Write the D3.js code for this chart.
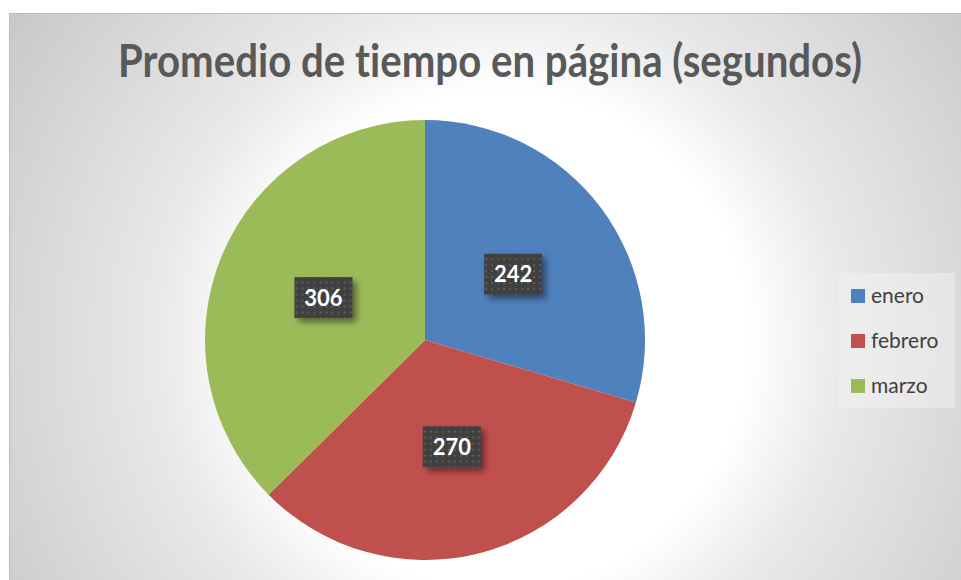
<!DOCTYPE html>
<html>
<head>
<meta charset="utf-8">
<script src="https://cdn.jsdelivr.net/npm/d3@7"></script>
<style>
  html, body { margin: 0; padding: 0; background: #ffffff; }
  svg { display: block; }
  text { font-variant-ligatures: none; font-feature-settings: "liga" 0; }
</style>
</head>
<body>
<svg id="chart" width="961" height="580"></svg>
<script>
// ---- data ----
const categories = ["enero", "febrero", "marzo"];
const values = [242, 270, 306];
const colors = ["#4f81bd", "#c0504d", "#9bbb59"];
const title = "Promedio de tiempo en página (segundos)";

const W = 961, H = 580;
const svg = d3.select("#chart");
const defs = svg.append("defs");

// background gradient
const rg = defs.append("radialGradient")
  .attr("id", "bg").attr("gradientUnits", "userSpaceOnUse")
  .attr("cx", 500).attr("cy", 340).attr("r", 590);
[[0, "#ffffff"], [0.42, "#ffffff"], [0.58, "#e9e9e9"], [1, "#c8c8c8"]]
  .forEach(([o, c]) => rg.append("stop").attr("offset", o).attr("stop-color", c));

// dotted pattern for labels
const pat = defs.append("pattern").attr("id", "dots")
  .attr("patternUnits", "userSpaceOnUse").attr("width", 6).attr("height", 6);
pat.append("rect").attr("width", 6).attr("height", 6).attr("fill", "#404040");
pat.append("rect").attr("x", 2).attr("y", 2).attr("width", 2).attr("height", 2).attr("fill", "#5c5c5c");

const sh = defs.append("filter").attr("id", "shadow")
  .attr("x", "-30%").attr("y", "-30%").attr("width", "170%").attr("height", "170%");
sh.append("feDropShadow").attr("dx", 4).attr("dy", 4).attr("stdDeviation", 3)
  .attr("flood-color", "#000").attr("flood-opacity", 0.45);

// chart area
svg.append("rect").attr("x", 9.5).attr("y", 13.5).attr("width", W + 20).attr("height", H + 20)
  .attr("fill", "url(#bg)").attr("stroke", "#bdbdbd").attr("stroke-width", 1);

// title
const t = svg.append("text")
  .attr("x", 490).attr("y", 77)
  .attr("text-anchor", "middle")
  .attr("font-family", "Lato, 'Open Sans', sans-serif")
  .attr("font-weight", 700)
  .attr("font-size", 45)
  .attr("fill", "#595959")
  .text(title);
const tl = t.node().getComputedTextLength();
if (Math.abs(tl - 744) > 4) t.attr("textLength", 744).attr("lengthAdjust", "spacingAndGlyphs");

// pie
const cx = 425, cy = 340, R = 220;
const pie = d3.pie().sort(null).value(d => d)(values);
const arc = d3.arc().innerRadius(0).outerRadius(R);
const g = svg.append("g").attr("transform", `translate(${cx},${cy})`);
g.selectAll("path.slice").data(pie).join("path")
  .attr("class", "slice")
  .attr("d", arc)
  .attr("fill", (d, i) => colors[i]);

// labels
const bw = 58, bh = 41;
const lab = g.selectAll("g.lab").data(pie).join("g")
  .attr("class", "lab")
  .attr("transform", d => { const c = arc.centroid(d); return `translate(${c[0]},${c[1]})`; });
lab.append("rect")
  .attr("x", -bw / 2).attr("y", -bh / 2).attr("width", bw).attr("height", bh)
  .attr("fill", "url(#dots)").attr("filter", "url(#shadow)");
lab.append("text")
  .attr("text-anchor", "middle").attr("dy", "0.36em")
  .attr("font-family", "Lato, 'Open Sans', sans-serif")
  .attr("font-weight", 700).attr("font-size", 22)
  .attr("fill", "#ffffff")
  .text(d => d.data);

// legend
svg.append("rect").attr("x", 839).attr("y", 273).attr("width", 116).attr("height", 135)
  .attr("fill", "#f4f4f4").attr("opacity", 0.45);
const ly = d3.scalePoint().domain(categories).range([296, 386]);
const leg = svg.selectAll("g.leg").data(categories).join("g")
  .attr("class", "leg")
  .attr("transform", d => `translate(851,${ly(d)})`);
leg.append("rect").attr("x", 0).attr("y", -7).attr("width", 14).attr("height", 14)
  .attr("fill", (d, i) => colors[i]);
leg.append("text").attr("x", 20).attr("dy", "0.35em")
  .attr("font-family", "Lato, 'Open Sans', sans-serif")
  .attr("font-size", 21).attr("fill", "#404040")
  .text(d => d);
</script>
</body>
</html>
